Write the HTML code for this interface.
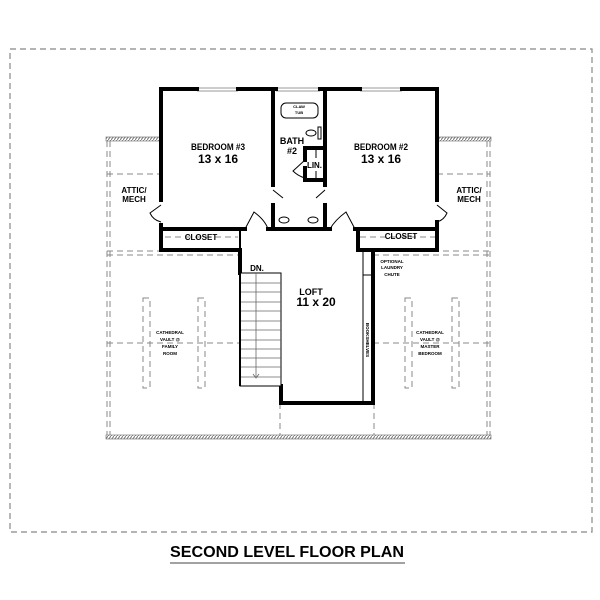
<!DOCTYPE html>
<html><head><meta charset="utf-8"><style>
body{margin:0;background:#fff}
svg{display:block}
text{font-family:"Liberation Sans",sans-serif;font-weight:bold;fill:#000}
</style></head><body>
<svg width="600" height="600" viewBox="0 0 600 600" xmlns="http://www.w3.org/2000/svg">
<defs>
<pattern id="h" width="3" height="4" patternUnits="userSpaceOnUse"><rect width="3" height="4" fill="#fff"/><line x1="0" y1="4" x2="3" y2="0" stroke="#777" stroke-width="1"/></pattern>
</defs>
<rect x="10" y="49" width="582" height="483" fill="none" stroke="#888" stroke-width="1.2" stroke-dasharray="6,4"/>
<rect x="106" y="137" width="55" height="4" fill="url(#h)" stroke="#666" stroke-width="0.6"/>
<rect x="437" y="137" width="54" height="4" fill="url(#h)" stroke="#666" stroke-width="0.6"/>
<rect x="106" y="435" width="385" height="4" fill="url(#h)" stroke="#666" stroke-width="0.6"/>
<g fill="none" stroke="#888" stroke-width="1" stroke-dasharray="6,4">
<line x1="107" y1="141" x2="107" y2="435"/><line x1="110" y1="141" x2="110" y2="435"/>
<line x1="490" y1="141" x2="490" y2="435"/><line x1="487" y1="141" x2="487" y2="435"/>
<line x1="107" y1="174" x2="161" y2="174"/><line x1="437" y1="174" x2="490" y2="174"/>
<line x1="107" y1="251" x2="240" y2="251"/><line x1="107" y1="255" x2="240" y2="255"/>
<line x1="373" y1="251" x2="490" y2="251"/><line x1="373" y1="255" x2="490" y2="255"/>
<line x1="107" y1="343" x2="240" y2="343"/><line x1="373" y1="343" x2="490" y2="343"/>
<line x1="240" y1="343" x2="281" y2="343"/>
<line x1="280" y1="403" x2="280" y2="435"/><line x1="374" y1="403" x2="374" y2="435"/>
<rect x="143" y="298" width="7" height="90"/><rect x="198" y="298" width="7" height="90"/>
<rect x="405" y="298" width="7" height="90"/><rect x="452" y="298" width="7" height="90"/>
<line x1="165" y1="237" x2="238" y2="237"/><line x1="360" y1="237" x2="435" y2="237"/>
</g>
<g stroke="#999" stroke-width="1"><line x1="197" y1="88" x2="238" y2="88"/><line x1="197" y1="91" x2="238" y2="91"/>
<line x1="276" y1="88" x2="320" y2="88"/><line x1="276" y1="91" x2="320" y2="91"/>
<line x1="360" y1="88" x2="402" y2="88"/><line x1="360" y1="91" x2="402" y2="91"/></g>
<g stroke="#000" stroke-width="4" fill="none" stroke-linecap="square">
<polyline points="197,89 161,89 161,200"/><polyline points="161,225 161,250 240,250 240,273"/>
<line x1="238" y1="89" x2="276" y2="89"/><line x1="320" y1="89" x2="360" y2="89"/>
<polyline points="402,89 437,89 437,200"/><polyline points="437,222 437,250 358,250 358,229"/>
<line x1="273" y1="89" x2="273" y2="185"/><line x1="325" y1="89" x2="325" y2="185"/>
<polyline points="273,205 273,229 325,229 325,205"/>
<line x1="161" y1="229" x2="245" y2="229"/><line x1="268" y1="229" x2="330" y2="229"/><line x1="355" y1="229" x2="437" y2="229"/>
<polyline points="305,160 305,148 325,148"/><polyline points="305,168 305,180 325,180"/>
<polyline points="281,386 281,403 373,403 373,250"/>
</g>
<g stroke="#000" stroke-width="2" fill="none">
<line x1="240" y1="229" x2="240" y2="273"/><line x1="358" y1="229" x2="358" y2="250"/>
</g>
<g stroke="#000" stroke-width="1" fill="none">
<rect x="281" y="103" width="37" height="15" rx="5"/>
<ellipse cx="311" cy="133" rx="5" ry="3"/><rect x="318" y="127" width="3" height="12"/>
<ellipse cx="284" cy="220" rx="5" ry="3"/><ellipse cx="313" cy="220" rx="5" ry="3"/>
<line x1="316" y1="150" x2="316" y2="158"/><line x1="316" y1="171" x2="316" y2="178"/>
<path d="M305,160 L293,171 Q298,176 305,178"/>
<path d="M273,190 L283,198 M325,190 L316,198"/>
<path d="M245,229 L254,212 Q265,220 268,229"/>
<path d="M355,229 L346,212 Q335,220 330,229"/>
<path d="M161,205 L150,213 Q153,220 161,222"/>
<path d="M437,205 L447,213 Q444,220 437,222"/>
<line x1="363" y1="252" x2="363" y2="403"/>
<line x1="363" y1="275" x2="373" y2="275"/>
</g>
<rect x="240" y="273" width="41" height="113" fill="#fff" stroke="#000" stroke-width="1"/>
<g stroke="#666" stroke-width="0.8">
<line x1="240" y1="283" x2="281" y2="283"/><line x1="240" y1="292" x2="281" y2="292"/><line x1="240" y1="302" x2="281" y2="302"/>
<line x1="240" y1="311" x2="281" y2="311"/><line x1="240" y1="321" x2="281" y2="321"/><line x1="240" y1="330" x2="281" y2="330"/>
<line x1="240" y1="340" x2="281" y2="340"/><line x1="240" y1="349" x2="281" y2="349"/><line x1="240" y1="358" x2="281" y2="358"/>
<line x1="240" y1="367" x2="281" y2="367"/><line x1="240" y1="377" x2="281" y2="377"/>
<line x1="256" y1="273" x2="256" y2="378"/><polyline points="253,374 256,378 259,374" fill="none"/>
</g>
<line x1="240" y1="273" x2="240" y2="386" stroke="#000" stroke-width="2"/>
<text x="218" y="150" font-size="9" text-anchor="middle" textLength="54" lengthAdjust="spacingAndGlyphs">BEDROOM #3</text>
<text x="218" y="163" font-size="12" text-anchor="middle">13 x 16</text>
<text x="381" y="150" font-size="9" text-anchor="middle" textLength="54" lengthAdjust="spacingAndGlyphs">BEDROOM #2</text>
<text x="381" y="163" font-size="12" text-anchor="middle">13 x 16</text>
<text x="292" y="144" font-size="9" text-anchor="middle">BATH</text>
<text x="292" y="154" font-size="9" text-anchor="middle">#2</text>
<text x="307" y="168" font-size="8" textLength="15" lengthAdjust="spacingAndGlyphs">LIN.</text>
<text x="299" y="108" font-size="4" text-anchor="middle">CLAW</text>
<text x="299" y="114" font-size="4" text-anchor="middle">TUB</text>
<text x="134" y="193" font-size="8" text-anchor="middle">ATTIC/</text>
<text x="134" y="202" font-size="8" text-anchor="middle">MECH</text>
<text x="469" y="193" font-size="8" text-anchor="middle">ATTIC/</text>
<text x="469" y="202" font-size="8" text-anchor="middle">MECH</text>
<text x="201" y="240" font-size="8" text-anchor="middle">CLOSET</text>
<text x="401" y="239" font-size="8" text-anchor="middle">CLOSET</text>
<text x="257" y="271" font-size="8" text-anchor="middle">DN.</text>
<text x="311" y="295" font-size="9" text-anchor="middle">LOFT</text>
<text x="316" y="306" font-size="12" text-anchor="middle">11 x 20</text>
<text x="392" y="263" font-size="4.5" text-anchor="middle">OPTIONAL</text>
<text x="392" y="269" font-size="4.5" text-anchor="middle">LAUNDRY</text>
<text x="392" y="276" font-size="4.5" text-anchor="middle">CHUTE</text>
<text x="0" y="0" font-size="4.5" text-anchor="middle" transform="translate(366,340) rotate(90)">BOOKSHELVES</text>
<text x="170" y="334" font-size="4.5" text-anchor="middle">CATHEDRAL</text>
<text x="170" y="341" font-size="4.5" text-anchor="middle">VAULT @</text>
<text x="170" y="348" font-size="4.5" text-anchor="middle">FAMILY</text>
<text x="170" y="355" font-size="4.5" text-anchor="middle">ROOM</text>
<text x="430" y="334" font-size="4.5" text-anchor="middle">CATHEDRAL</text>
<text x="430" y="341" font-size="4.5" text-anchor="middle">VAULT @</text>
<text x="430" y="348" font-size="4.5" text-anchor="middle">MASTER</text>
<text x="430" y="355" font-size="4.5" text-anchor="middle">BEDROOM</text>
<text x="287" y="557" font-size="16" text-anchor="middle" textLength="234" lengthAdjust="spacingAndGlyphs">SECOND LEVEL FLOOR PLAN</text>
<line x1="170" y1="563" x2="405" y2="563" stroke="#444" stroke-width="1"/>
</svg>
</body></html>
